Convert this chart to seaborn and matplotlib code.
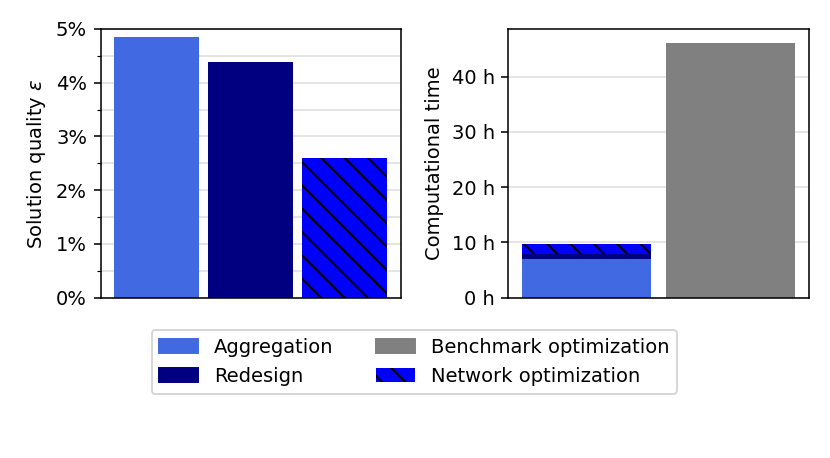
import numpy as np
import pandas as pd
import seaborn as sns
import matplotlib.pyplot as plt
import matplotlib.patches as mpatches
from matplotlib.ticker import MultipleLocator, PercentFormatter, FuncFormatter

# values
methods = ['Aggregation', 'Redesign', 'Network optimization']
quality = [4.85, 4.38, 2.60]          # solution quality in %
time_parts = [7.05, 0.78, 1.86]       # h: aggregation, redesign, network opt.
benchmark_time = 46.1                 # h
time_groups = ['Proposed', 'Benchmark']

colors = {'Aggregation': '#4169E1', 'Redesign': '#000080',
          'Network optimization': '#0000FF', 'Benchmark optimization': '#808080'}

plt.rcParams['font.size'] = 10
plt.rcParams['hatch.linewidth'] = 1.1

fig = plt.figure(figsize=(830 / 140, 458 / 140), dpi=140)
ax1 = fig.add_axes([0.1213, 0.350, 0.3614, 0.5867])
ax2 = fig.add_axes([0.6124, 0.350, 0.3619, 0.5867])

# left: solution quality
df_q = pd.DataFrame({'method': methods, 'quality': quality})
sns.barplot(data=df_q, x='method', y='quality', hue='method',
            palette=[colors[m] for m in methods], width=0.9, saturation=1,
            linewidth=0, legend=False, ax=ax1, zorder=2)
p = ax1.patches[2]
p.set_edgecolor('black')
p.set_linewidth(0)
p.set_hatch('\\\\')
ax1.set_xlim(-0.595, 2.595)
ax1.set_ylim(0, 5)
ax1.yaxis.set_major_locator(MultipleLocator(1))
ax1.yaxis.set_minor_locator(MultipleLocator(0.5))
ax1.yaxis.set_major_formatter(PercentFormatter(decimals=0))
ax1.grid(axis='y', which='both', color='#dddddd', linewidth=0.8, zorder=0)
ax1.set_axisbelow(True)
ax1.set_ylabel(r'Solution quality $\epsilon$')

# right: computational time, stacked by drawing cumulative layers
cum = np.cumsum(time_parts)
layers = [
    (['Proposed', 'Benchmark'], [cum[2], benchmark_time],
     [colors['Network optimization'], colors['Benchmark optimization']]),
    (['Proposed'], [cum[1]], [colors['Redesign']]),
    (['Proposed'], [cum[0]], [colors['Aggregation']]),
]
for i, (xs, ys, cols) in enumerate(layers):
    sns.barplot(x=xs, y=ys, hue=xs, order=time_groups, hue_order=xs,
                palette=cols, width=0.9, saturation=1, linewidth=0,
                legend=False, ax=ax2, zorder=2)
    if i == 0:
        p = ax2.patches[0]
        p.set_edgecolor('black')
        p.set_linewidth(0)
        p.set_hatch('\\\\')
ax2.set_xlim(-0.545, 1.545)
ax2.set_ylim(0, 48.6)
ax2.yaxis.set_major_locator(MultipleLocator(10))
ax2.yaxis.set_major_formatter(FuncFormatter(lambda v, pos: f'{v:.0f} h'))
ax2.grid(axis='y', color='#dddddd', linewidth=0.8, zorder=0)
ax2.set_axisbelow(True)
ax2.set_ylabel('Computational time')

for ax in (ax1, ax2):
    ax.set_xticks([])
    ax.set_xlabel('')

handles = [
    mpatches.Patch(color=colors['Aggregation'], label='Aggregation'),
    mpatches.Patch(color=colors['Redesign'], label='Redesign'),
    mpatches.Patch(color=colors['Benchmark optimization'], label='Benchmark optimization'),
    mpatches.Patch(facecolor=colors['Network optimization'], edgecolor='black',
                   linewidth=0, hatch='\\\\', label='Network optimization'),
]
fig.legend(handles=handles, loc='upper center', bbox_to_anchor=(0.499, 0.30),
           ncol=2, columnspacing=2.2)

fig.savefig('out.png', dpi=140)
